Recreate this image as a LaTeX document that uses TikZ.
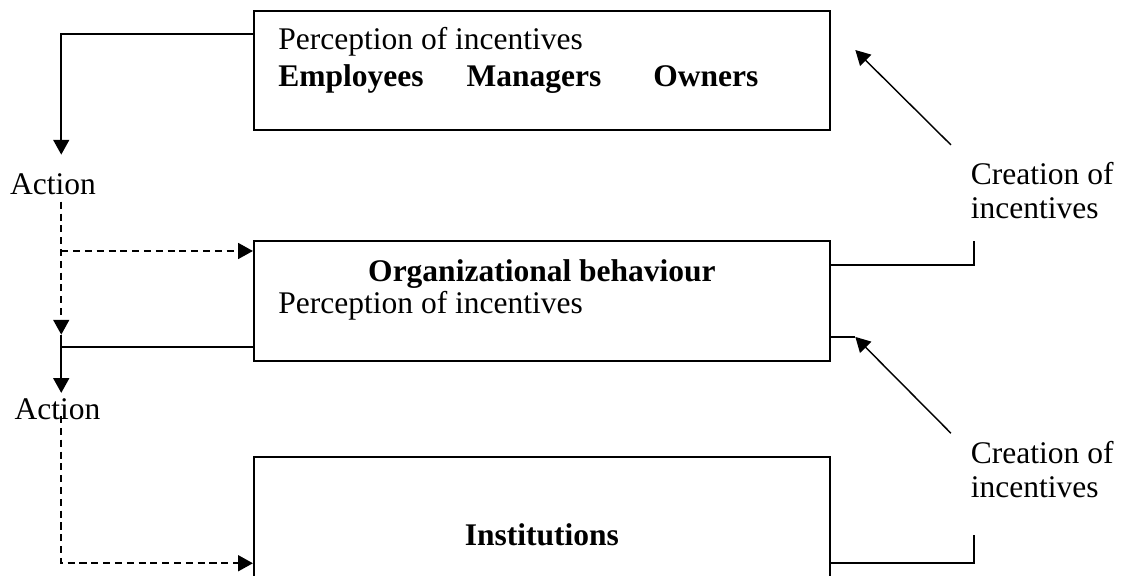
\documentclass[tikz,border=0pt]{standalone}
\usepackage{fontspec}
\setmainfont{Liberation Serif}
\usetikzlibrary{arrows.meta}

\begin{document}
\begin{tikzpicture}[
        box/.style={draw, line width=0.8pt, minimum width=7.71cm, inner sep=0pt},
        txt/.style={anchor=base west, inner sep=0pt, font=\fontsize{12}{14}\selectfont},
        link/.style={line width=0.75pt},
        dashlink/.style={line width=0.7pt, dash pattern=on 2.7pt off 1.8pt},
        slant/.style={line width=0.55pt},
        tip/.style={-{Triangle[length=5.6pt,width=6pt]}}
    ]
        \clip (0,0) rectangle (15.14,7.71);

        % Draw the three boxes
        \node[box, minimum height=1.59cm] (incent) at (7.255,6.765) {};
        \node[box, minimum height=1.60cm] (orgbeh) at (7.255,3.68) {};
        \node[box, minimum height=2.09cm] (inst) at (7.255,0.545) {};

        % Text inside the boxes
        \node[txt] (perc1) at (3.72,7.05) {Perception of incentives};
        \foreach \who/\x in {Employees/3.72, Managers/6.24, Owners/8.74} {
                \node[txt] (\who) at (\x,6.55) {\textbf{\who}};
            }
        \node[txt, anchor=base] (orgtitle) at (7.255,3.94) {\textbf{Organizational behaviour}};
        \node[txt] (perc2) at (3.72,3.51) {Perception of incentives};
        \node[txt, anchor=base] (insttitle) at (7.255,0.41) {\textbf{Institutions}};

        % Labels beside the boxes
        \foreach \i/\x/\y in {1/0.13/5.10, 2/0.19/2.09} {
                \node[txt] (action\i) at (\x,\y) {Action};
            }
        \foreach \i/\y in {1/5.54, 2/1.81} {
                \node[txt, anchor=north west, align=left, font=\fontsize{12}{13}\selectfont]
                    (create\i) at (12.99,\y) {Creation of\\incentives};
            }

        % Bend and end points of the left connectors
        \coordinate (a1) at (0.82,7.26);
        \coordinate (a1end) at (0.82,5.64);
        \coordinate (d1) at (0.82,5.01);
        \coordinate (d1mid) at (0.82,4.35);
        \coordinate (d1end) at (0.82,3.23);
        \coordinate (a2) at (0.82,3.07);
        \coordinate (a2end) at (0.82,2.45);
        \coordinate (d2) at (0.82,2.14);
        \coordinate (d2end) at (0.82,0.17);

        % Action arrows on the left
        \draw[link, tip] (incent.west |- a1) -- (a1) -- (a1end);
        \draw[dashlink, tip] (d1) -- (d1end);
        \draw[dashlink, tip] (d1mid) -- (orgbeh.west |- d1mid);
        \draw[link] (orgbeh.west |- a2) -- (a2);
        \draw[link, tip] (d1end) -- (a2end);
        \draw[dashlink, tip] (d2) -- (d2end) -- (inst.west |- d2end);

        % Bend and end points of the right connectors
        \coordinate (r1) at (13.04,4.16);
        \coordinate (r1top) at (13.04,4.48);
        \coordinate (c1) at (12.73,5.77);
        \coordinate (c1end) at (11.45,7.04);
        \coordinate (stub) at (11.45,3.20);
        \coordinate (c2) at (12.73,1.91);
        \coordinate (r2) at (13.04,0.17);
        \coordinate (r2top) at (13.04,0.55);

        % Creation of incentives on the right
        \draw[link] (orgbeh.east |- r1) -- (r1) -- (r1top);
        \draw[slant, tip] (c1) -- (c1end);
        \draw[link] (orgbeh.east |- stub) -- (stub);
        \draw[slant, tip] (c2) -- (stub);
        \draw[link] (inst.east |- r2) -- (r2) -- (r2top);
    \end{tikzpicture}
\end{document}
